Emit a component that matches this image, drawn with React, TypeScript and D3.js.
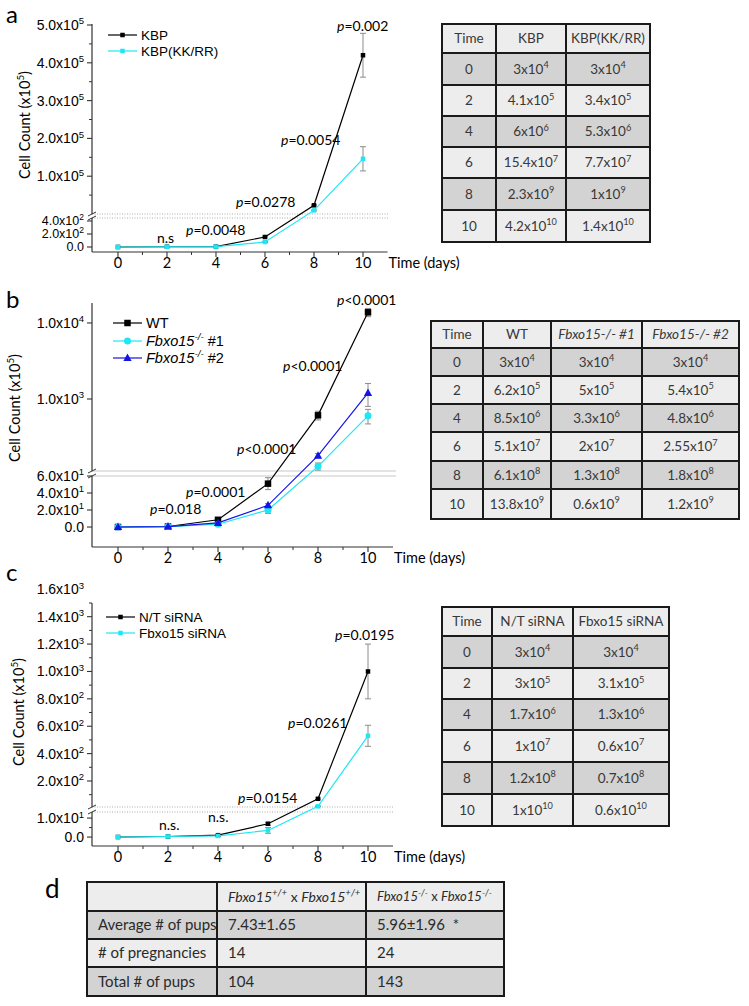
import React, { useEffect, useRef } from 'react';
import * as d3 from 'd3';

// ---------- data ----------
const DAYS = [0, 2, 4, 6, 8, 10];
const X_TICKS = [0, 2, 4, 6, 8, 10];
const X_MINOR = [1, 3, 5, 7, 9];

// panel a
const A_KBP = [0.3, 4.1, 6, 154, 23000, 420000];
const A_KBP_SD = [0, 0, 0, 12, 1500, 58000];
const A_KKRR = [0.3, 3.4, 5.3, 77, 9500, 146000];
const A_KKRR_SD = [0, 0, 0, 8, 1000, 32000];
const A_TICKS_UP = [100000, 200000, 300000, 400000, 500000];
const A_MINOR_UP = [50000, 150000, 250000, 350000, 450000];
const A_TICKS_LOW = [0, 200, 400];
const A_P_LABELS = ['n.s', 'p=0.0048', 'p=0.0278', 'p=0.0054', 'p=0.002'];
const A_LEGEND = ['KBP', 'KBP(KK/RR)'];

// panel b
const B_WT = [0.03, 0.62, 8.5, 51, 610, 13800];
const B_WT_SD = [0, 0, 1, 7, 80, 1700];
const B_KO1 = [0.03, 0.5, 3.3, 20, 130, 600];
const B_KO1_SD = [0, 0, 0.5, 4, 14, 130];
const B_KO2 = [0.03, 0.54, 4.8, 25.5, 180, 1200];
const B_KO2_SD = [0, 0, 0.5, 2, 12, 400];
const B_TICKS_UP = [1000, 10000];
const B_TICKS_LOW = [0, 20, 40, 60];
const B_P_LABELS = ['p=0.018', 'p=0.0001', 'p<0.0001', 'p<0.0001', 'p<0.0001'];

// panel c
const C_NT = [0.03, 0.3, 1, 7, 70, 1000];
const C_NT_SD = [0, 0, 0.3, 0.8, 6, 200];
const C_SI = [0.03, 0.3, 0.6, 3.5, 15, 530];
const C_SI_SD = [0, 0, 0.3, 1.5, 3, 77];
const C_TICKS_UP = [200, 400, 600, 800, 1000, 1200, 1400, 1600];
const C_MINOR_UP = [100, 300, 500, 700, 900, 1100, 1300, 1500];
const C_TICKS_LOW = [0, 10];
const C_MINOR_LOW = [5];
const C_P_LABELS = ['n.s.', 'n.s.', 'p=0.0154', 'p=0.0261', 'p=0.0195'];
const C_LEGEND = ['N/T siRNA', 'Fbxo15 siRNA'];

// tables
const TAB_TIME = ['0', '2', '4', '6', '8', '10'];
const A_TAB_HEAD = ['Time', 'KBP', 'KBP(KK/RR)'];
const A_TAB_KBP = ['3x10^4', '4.1x10^5', '6x10^6', '15.4x10^7', '2.3x10^9', '4.2x10^10'];
const A_TAB_KKRR = ['3x10^4', '3.4x10^5', '5.3x10^6', '7.7x10^7', '1x10^9', '1.4x10^10'];
const B_TAB_HEAD = ['Time', 'WT', 'Fbxo15-/- #1', 'Fbxo15-/- #2'];
const B_TAB_WT = ['3x10^4', '6.2x10^5', '8.5x10^6', '5.1x10^7', '6.1x10^8', '13.8x10^9'];
const B_TAB_KO1 = ['3x10^4', '5x10^5', '3.3x10^6', '2x10^7', '1.3x10^8', '0.6x10^9'];
const B_TAB_KO2 = ['3x10^4', '5.4x10^5', '4.8x10^6', '2.55x10^7', '1.8x10^8', '1.2x10^9'];
const C_TAB_HEAD = ['Time', 'N/T siRNA', 'Fbxo15 siRNA'];
const C_TAB_NT = ['3x10^4', '3x10^5', '1.7x10^6', '1x10^7', '1.2x10^8', '1x10^10'];
const C_TAB_SI = ['3x10^4', '3.1x10^5', '1.3x10^6', '0.6x10^7', '0.7x10^8', '0.6x10^10'];
const D_ROWS = ['Average # of pups', '# of pregnancies', 'Total # of pups'];
const D_WT = ['7.43±1.65', '14', '104'];
const D_KO = ['5.96±1.96\u00a0\u00a0*', '24', '143'];

// ---------- helpers ----------
type Part = { t: string; sup?: boolean; it?: boolean };
const ARIAL = '"Liberation Sans", Arial, sans-serif';
const CAL = 'Lato, "Open Sans", sans-serif';
const CYAN = '#1ee6f2';
const BLUE = '#1414e6';

function rich(g: any, x: number, y: number, parts: Part[], size: number, family: string, anchor = 'start', fill = '#000') {
  const t = g.append('text').attr('x', x).attr('y', y).attr('font-size', size)
    .attr('font-family', family).attr('text-anchor', anchor).attr('fill', fill);
  let shifted = false;
  parts.forEach((p) => {
    const ts = t.append('tspan').text(p.t);
    if (p.it) ts.attr('font-style', 'italic');
    if (p.sup) {
      ts.attr('font-size', size * 0.68);
      if (!shifted) { ts.attr('dy', -size * 0.4); shifted = true; }
    } else if (shifted) { ts.attr('dy', size * 0.4); shifted = false; }
  });
  return t;
}

function sciParts(v: number): Part[] {
  if (v === 0) return [{ t: '0.0' }];
  const e = Math.floor(Math.log10(v) + 1e-9);
  const m = v / Math.pow(10, e);
  return [{ t: m.toFixed(1) + 'x10' }, { t: String(e), sup: true }];
}

function strParts(s: string, it = false): Part[] {
  const i = s.indexOf('^');
  if (i < 0) return [{ t: s, it }];
  return [{ t: s.slice(0, i), it }, { t: s.slice(i + 1), sup: true, it }];
}

function pParts(s: string): Part[] {
  if (s.startsWith('p')) return [{ t: 'p', it: true }, { t: s.slice(1) }];
  return [{ t: s }];
}

function marker(g: any, shape: string, cx: number, cy: number, size: number, color: string) {
  if (shape === 'square') {
    g.append('rect').attr('x', cx - size / 2).attr('y', cy - size / 2).attr('width', size).attr('height', size).attr('fill', color);
  } else if (shape === 'circle') {
    g.append('circle').attr('cx', cx).attr('cy', cy).attr('r', size / 2).attr('fill', color);
  } else {
    const h = size;
    g.append('path').attr('d', `M${cx},${cy - h * 0.6}L${cx + h * 0.55},${cy + h * 0.4}L${cx - h * 0.55},${cy + h * 0.4}Z`).attr('fill', color);
  }
}

function drawPanel(svg: any, cfg: any) {
  const g = svg.append('g');
  const x = d3.scaleLinear().domain(cfg.xDomain).range(cfg.xRange);
  const yl = d3.scaleLinear().domain(cfg.lowDomain).range(cfg.lowRange);
  const yu: any = (cfg.log ? d3.scaleLog() : d3.scaleLinear()).domain(cfg.upDomain).range(cfg.upRange);
  const seg = (v: number) => (v > cfg.threshold ? yu : yl);
  const y = (v: number) => seg(v)(v);
  const ax = cfg.xRange[0];
  const bottom = cfg.lowRange[0];

  // break reference lines
  [cfg.upRange[0], cfg.lowRange[1]].forEach((yy: number) => {
    g.append('line').attr('x1', ax).attr('x2', cfg.breakEnd).attr('y1', yy).attr('y2', yy)
      .attr('stroke', cfg.breakSolid ? '#c8c8c8' : '#9a9a9a').attr('stroke-width', cfg.breakSolid ? 1.2 : 0.8)
      .attr('stroke-dasharray', cfg.breakSolid ? null : '1,1.5');
  });

  // y axis
  const axisColor = '#333';
  g.append('line').attr('x1', ax).attr('x2', ax).attr('y1', cfg.upTop).attr('y2', cfg.upRange[0]).attr('stroke', axisColor).attr('stroke-width', 1.2);
  g.append('line').attr('x1', ax).attr('x2', ax).attr('y1', cfg.lowRange[1]).attr('y2', bottom).attr('stroke', axisColor).attr('stroke-width', 1.2);
  [cfg.upRange[0], cfg.lowRange[1]].forEach((yy: number) => {
    g.append('line').attr('x1', ax - 4).attr('x2', ax + 4).attr('y1', yy + 2).attr('y2', yy - 2).attr('stroke', axisColor).attr('stroke-width', 1);
  });

  const tickSets = [
    { s: yu, major: cfg.upTicks, minor: cfg.upMinor || [], lo: Math.min(...cfg.upRange, cfg.upTop), hi: Math.max(...cfg.upRange), size: 14 },
    { s: yl, major: cfg.lowTicks, minor: cfg.lowMinor || [], lo: Math.min(...cfg.lowRange), hi: Math.max(...cfg.lowRange), size: cfg.lowLabelSize || 14 },
  ];
  tickSets.forEach((ts) => {
    ts.major.forEach((v: number) => {
      const yy = ts.s(v);
      if (yy >= ts.lo - 0.5 && yy <= ts.hi + 0.5) {
        g.append('line').attr('x1', ax - 5).attr('x2', ax).attr('y1', yy).attr('y2', yy).attr('stroke', axisColor).attr('stroke-width', 1.1);
      }
      rich(g, ax - 8, yy + ts.size * 0.36, sciParts(v), ts.size, ARIAL, 'end');
    });
    ts.minor.forEach((v: number) => {
      const yy = ts.s(v);
      g.append('line').attr('x1', ax - 3).attr('x2', ax).attr('y1', yy).attr('y2', yy).attr('stroke', axisColor).attr('stroke-width', 1);
    });
  });

  // x axis
  g.append('line').attr('x1', ax).attr('x2', cfg.xRange[1]).attr('y1', bottom).attr('y2', bottom).attr('stroke', axisColor).attr('stroke-width', 1.2);
  X_TICKS.forEach((d) => {
    g.append('line').attr('x1', x(d)).attr('x2', x(d)).attr('y1', bottom).attr('y2', bottom + 5).attr('stroke', axisColor).attr('stroke-width', 1.1);
    g.append('text').attr('x', x(d)).attr('y', bottom + 16).attr('text-anchor', 'middle').attr('font-size', 14.5).attr('font-family', CAL).text(String(d));
  });
  X_MINOR.forEach((d) => {
    g.append('line').attr('x1', x(d)).attr('x2', x(d)).attr('y1', bottom).attr('y2', bottom + 3).attr('stroke', axisColor).attr('stroke-width', 1);
  });
  g.append('text').attr('x', cfg.xRange[1] + 1).attr('y', bottom + 16).attr('font-size', 14.5).attr('font-family', CAL).text('Time (days)');

  // y title
  rich(g.append('g').attr('transform', `translate(${cfg.titlePos[0]},${cfg.titlePos[1]}) rotate(-90)`), 0, 0,
    [{ t: 'Cell Count (x10' }, { t: '5', sup: true }, { t: ')' }], 14.5, CAL, 'middle');

  // panel letter
  g.append('text').attr('x', 6).attr('y', cfg.letterY).attr('font-size', 24).attr('font-family', CAL).text(cfg.letter);

  // error bars
  cfg.series.forEach((s: any) => {
    s.values.forEach((v: number, i: number) => {
      const e = s.sd[i];
      if (!e) return;
      const sc = seg(v);
      const y1 = sc(v + e), y2 = sc(Math.max(v - e, 1e-6));
      const xx = x(DAYS[i]);
      g.append('line').attr('x1', xx).attr('x2', xx).attr('y1', y1).attr('y2', y2).attr('stroke', '#8c8c8c').attr('stroke-width', 1);
      [y1, y2].forEach((yy: number) => g.append('line').attr('x1', xx - 3).attr('x2', xx + 3).attr('y1', yy).attr('y2', yy).attr('stroke', '#8c8c8c').attr('stroke-width', 1));
    });
  });
  // lines + markers
  cfg.series.forEach((s: any) => {
    const line = d3.line<number>().x((_, i) => x(DAYS[i])).y((v) => y(v));
    g.append('path').attr('d', line(s.values)).attr('fill', 'none').attr('stroke', s.color).attr('stroke-width', 1.2);
    s.values.forEach((v: number, i: number) => marker(g, s.shape, x(DAYS[i]), y(v), s.msize, s.color));
  });

  // legend
  cfg.series.forEach((s: any, i: number) => {
    const ly = cfg.legend.y[i];
    g.append('line').attr('x1', cfg.legend.x).attr('x2', cfg.legend.x + 29).attr('y1', ly).attr('y2', ly).attr('stroke', s.color).attr('stroke-width', 1.2);
    marker(g, s.shape, cfg.legend.x + 14.5, ly, s.msize, s.color);
    rich(g, cfg.legend.x + 33, ly + 5, s.label, cfg.legend.size, ARIAL);
  });

  // p labels
  cfg.pLabels.forEach((p: any) => rich(g, p.x, p.y + 5, pParts(p.t), 14, CAL));
}

function drawTable(svg: any, cols: number[], rows: number[], cells: Part[][][], fills: string[], opts: any = {}) {
  const g = svg.append('g');
  for (let r = 0; r < rows.length - 1; r++) {
    g.append('rect').attr('x', cols[0]).attr('y', rows[r]).attr('width', cols[cols.length - 1] - cols[0])
      .attr('height', rows[r + 1] - rows[r]).attr('fill', fills[r]);
  }
  for (let r = 0; r < rows.length - 1; r++) {
    for (let c = 0; c < cols.length - 1; c++) {
      const parts = cells[r][c];
      if (!parts) continue;
      const cy = (rows[r] + rows[r + 1]) / 2;
      const size = (opts.sizeFn && opts.sizeFn(r, c)) || opts.size || 13;
      if (opts.left) rich(g, cols[c] + 11, cy + size * 0.36, parts, size, CAL, 'start', '#2a2a2a');
      else rich(g, (cols[c] + cols[c + 1]) / 2, cy + size * 0.36, parts, size, CAL, 'middle', '#383838');
    }
  }
  rows.forEach((yy) => g.append('line').attr('x1', cols[0] - 1).attr('x2', cols[cols.length - 1] + 1).attr('y1', yy).attr('y2', yy).attr('stroke', '#1a1a1a').attr('stroke-width', 2));
  cols.forEach((xx) => g.append('line').attr('x1', xx).attr('x2', xx).attr('y1', rows[0] - 1).attr('y2', rows[rows.length - 1] + 1).attr('stroke', '#1a1a1a').attr('stroke-width', 2));
}

const DARK = '#d3d3d3';
const LIGHT = '#ededed';

export default function App() {
  const ref = useRef<SVGSVGElement>(null);
  useEffect(() => {
    const svg = d3.select(ref.current);
    svg.selectAll('*').remove();
    svg.append('rect').attr('width', 749).attr('height', 1006).attr('fill', '#fff');

    // ---- panel a ----
    drawPanel(svg, {
      letter: 'a', letterY: 23,
      xDomain: [-1.06, 11], xRange: [92, 387.5],
      lowDomain: [-77, 446], lowRange: [252, 218],
      upDomain: [0, 500000], upRange: [214, 25], upTop: 24,
      threshold: 446, log: false,
      upTicks: A_TICKS_UP, upMinor: A_MINOR_UP, lowTicks: A_TICKS_LOW, lowLabelSize: 12.5,
      breakEnd: 389, breakSolid: false,
      titlePos: [30, 125],
      series: [
        { values: A_KBP, sd: A_KBP_SD, color: '#000', shape: 'square', msize: 4.5, label: [{ t: A_LEGEND[0] }] },
        { values: A_KKRR, sd: A_KKRR_SD, color: CYAN, shape: 'square', msize: 4.5, label: [{ t: A_LEGEND[1] }] },
      ],
      legend: { x: 108, y: [35, 51], size: 13.5 },
      pLabels: [
        { t: A_P_LABELS[0], x: 157, y: 238 },
        { t: A_P_LABELS[1], x: 186, y: 230 },
        { t: A_P_LABELS[2], x: 236, y: 202 },
        { t: A_P_LABELS[3], x: 281, y: 140 },
        { t: A_P_LABELS[4], x: 337, y: 26 },
      ],
    });

    // ---- panel b ----
    drawPanel(svg, {
      letter: 'b', letterY: 308,
      xDomain: [-1.04, 11], xRange: [92, 393],
      lowDomain: [-23.5, 60], lowRange: [547, 476],
      upDomain: [113, 18300], upRange: [471, 303], upTop: 303,
      threshold: 60, log: true,
      upTicks: B_TICKS_UP, lowTicks: B_TICKS_LOW,
      breakEnd: 396, breakSolid: true,
      titlePos: [20, 408],
      series: [
        { values: B_WT, sd: B_WT_SD, color: '#000', shape: 'square', msize: 6.5, label: [{ t: 'WT' }] },
        { values: B_KO1, sd: B_KO1_SD, color: CYAN, shape: 'circle', msize: 7, label: [{ t: 'Fbxo15', it: true }, { t: '-/-', sup: true, it: true }, { t: ' #1' }] },
        { values: B_KO2, sd: B_KO2_SD, color: BLUE, shape: 'triangle', msize: 7.5, label: [{ t: 'Fbxo15', it: true }, { t: '-/-', sup: true, it: true }, { t: ' #2' }] },
      ],
      legend: { x: 113, y: [323, 341, 358], size: 14.5 },
      pLabels: [
        { t: B_P_LABELS[0], x: 150, y: 509 },
        { t: B_P_LABELS[1], x: 186, y: 492 },
        { t: B_P_LABELS[2], x: 237, y: 449 },
        { t: B_P_LABELS[3], x: 283, y: 366 },
        { t: B_P_LABELS[4], x: 337, y: 300 },
      ],
    });

    // ---- panel c ----
    drawPanel(svg, {
      letter: 'c', letterY: 581,
      xDomain: [-1.04, 11], xRange: [92, 393],
      lowDomain: [-4.7, 13.2], lowRange: [846, 812],
      upDomain: [10, 1500], upRange: [807, 603], upTop: 603,
      threshold: 13.2, log: false,
      upTicks: C_TICKS_UP, upMinor: C_MINOR_UP, lowTicks: C_TICKS_LOW, lowMinor: C_MINOR_LOW,
      breakEnd: 393, breakSolid: false,
      titlePos: [24, 712],
      series: [
        { values: C_NT, sd: C_NT_SD, color: '#000', shape: 'square', msize: 4.5, label: [{ t: C_LEGEND[0] }] },
        { values: C_SI, sd: C_SI_SD, color: CYAN, shape: 'square', msize: 4.5, label: [{ t: C_LEGEND[1] }] },
      ],
      legend: { x: 106, y: [617, 633], size: 13.5 },
      pLabels: [
        { t: C_P_LABELS[0], x: 159, y: 825 },
        { t: C_P_LABELS[1], x: 208, y: 817 },
        { t: C_P_LABELS[2], x: 238, y: 798 },
        { t: C_P_LABELS[3], x: 288, y: 723 },
        { t: C_P_LABELS[4], x: 335, y: 635 },
      ],
    });

    // ---- tables ----
    const rowFills7 = [LIGHT, DARK, LIGHT, DARK, LIGHT, DARK, LIGHT];
    const aCells: Part[][][] = [A_TAB_HEAD.map((h) => [{ t: h }])];
    TAB_TIME.forEach((t, i) => aCells.push([[{ t }], strParts(A_TAB_KBP[i]), strParts(A_TAB_KKRR[i])]));
    drawTable(svg, [442, 496, 566, 650], [24, 53, 85, 116, 147, 178, 210, 242], aCells, rowFills7, { size: 13.5 });

    const bCells: Part[][][] = [B_TAB_HEAD.map((h, i) => [{ t: h, it: i >= 2 }])];
    TAB_TIME.forEach((t, i) => bCells.push([[{ t }], strParts(B_TAB_WT[i]), strParts(B_TAB_KO1[i]), strParts(B_TAB_KO2[i])]));
    drawTable(svg, [431, 483, 551, 642, 739], [321, 348, 376, 404, 432, 461, 489, 519], bCells, rowFills7, { size: 13.5 });

    const cCells: Part[][][] = [C_TAB_HEAD.map((h) => [{ t: h }])];
    TAB_TIME.forEach((t, i) => cCells.push([[{ t }], strParts(C_TAB_NT[i]), strParts(C_TAB_SI[i])]));
    drawTable(svg, [442, 492, 573, 669], [607, 636, 668, 699, 730, 762, 794, 826], cCells, rowFills7, { size: 13.5 });

    // ---- panel d ----
    svg.append('text').attr('x', 45).attr('y', 898).attr('font-size', 26).attr('font-family', CAL).text('d');
    const dCells: Part[][][] = [[
      null as any,
      [{ t: 'Fbxo15', it: true }, { t: '+/+', sup: true, it: true }, { t: ' x ' }, { t: 'Fbxo15', it: true }, { t: '+/+', sup: true, it: true }],
      [{ t: 'Fbxo15', it: true }, { t: '-/-', sup: true, it: true }, { t: ' x ' }, { t: 'Fbxo15', it: true }, { t: '-/-', sup: true, it: true }],
    ]];
    D_ROWS.forEach((r, i) => dCells.push([[{ t: r }], [{ t: D_WT[i] }], [{ t: D_KO[i] }]]));
    drawTable(svg, [87, 217, 366, 504], [882, 911, 939, 967, 996], dCells, [LIGHT, DARK, LIGHT, DARK], {
      left: true, sizeFn: (r: number, c: number) => (r === 0 ? (c === 2 ? 13 : 14) : 15),
    });
  }, []);
  return <svg ref={ref} width={749} height={1006} style={{ position: 'absolute', left: 0, top: 0 }} />;
}
